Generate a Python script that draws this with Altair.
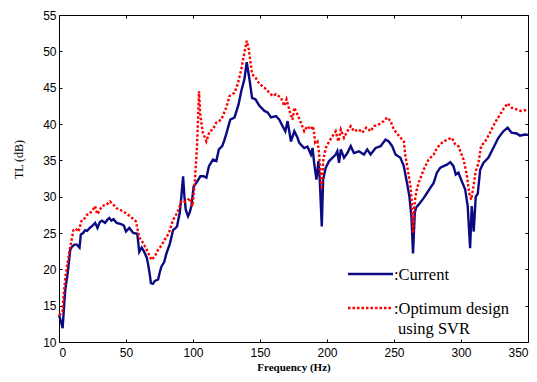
import altair as alt
import pandas as pd

# Current design
cur_f = [0, 1.2, 2.7, 4.0, 4.7, 6.5, 8.4, 9.6, 11.5, 13.4, 15.3, 16.3, 18, 19.5, 21, 23, 25, 27, 28.7, 30.5,
         32, 34.4, 36, 37.6, 39, 40.6, 43, 45, 46.8, 48.5, 50, 52.5, 55.4, 58.4, 59.9, 61.7, 63, 64.1, 65.5, 66.6,
         67.8, 68.6, 70, 71.5, 74, 75.2, 76.5, 78.5, 80.2, 82.7, 84, 85.1, 87.1, 88.1, 89, 90.1, 91.3, 92.6, 93.6, 94.6,
         96.3, 97.5, 98.8, 100.5, 102.5, 105.5, 108, 110, 111.9, 114.9, 117.4, 119.3, 121.8, 123.3, 124.8, 127.8, 131, 134, 136, 138.4,
         140.1, 142.1, 144.1, 146.6, 149.6, 153.3, 155.7, 158.2, 162, 164.4, 166.9, 168.9, 170.6, 173.1, 175.6, 178, 179.3, 183, 185.4, 188,
         189.2, 190.4, 192.1, 193.6, 194.6, 196.1, 197.1, 199.1, 201.6, 204, 206.5, 207.7, 209, 210.3, 212.7, 215.2, 217.7, 220.1, 223.8, 227.6,
         230, 232.5, 236.3, 240, 243.7, 246.1, 248.6, 251.1, 254.8, 257.3, 259.7, 261.5, 263, 264.2, 265.5, 266.5, 268.4, 272.1, 274.6, 277.1,
         279.6, 282, 284.6, 287, 289.5, 292, 294.4, 296.1, 298.1, 300.6, 303.1, 305, 306.8, 308, 309.5, 311, 312.5, 314.3, 316.7, 320.4,
         324.1, 327.9, 331.6, 334.8, 337.7, 341.5, 344, 347.7, 350]
cur_tl = [13.7, 13.0, 11.9, 15.5, 17.2, 19.5, 22.7, 23.1, 23.4, 23.4, 23.0, 24.8, 25.0, 25.4, 25.3, 25.7, 26.0, 26.4, 25.7, 26.5,
          26.7, 26.4, 26.8, 27.05, 26.7, 26.9, 26.4, 26.3, 26.2, 26.0, 25.2, 25.7, 25.0, 24.9, 22.4, 23.0, 22.6, 22.2, 21.6, 20.6,
          19.2, 18.1, 18.0, 18.4, 18.6, 19.6, 20.4, 21.0, 22.2, 23.5, 24.5, 25.4, 25.7, 25.9, 26.8, 27.75, 30.0, 32.8, 30.0, 28.2,
          27.3, 27.8, 28.7, 31.4, 31.9, 32.8, 32.8, 32.6, 34.2, 35.1, 34.9, 36.5, 36.95, 37.7, 38.6, 40.6, 40.9, 42.7, 44.5, 46.2,
          48.5, 46.2, 43.6, 43.4, 42.5, 41.8, 41.6, 40.9, 41.1, 40.6, 39.7, 39.0, 40.4, 37.6, 39.0, 38.1, 37.4, 36.7, 36.9, 35.8,
          36.7, 34.65, 32.35, 34.9, 32.35, 25.9, 32.35, 34.0, 34.9, 35.35, 35.8, 36.25, 34.65, 36.5, 35.35, 36.0, 36.95, 36.0, 36.25, 35.8,
          36.5, 35.8, 36.7, 36.95, 37.85, 37.6, 36.95, 35.8, 35.35, 34.2, 31.9, 30.0, 27.3, 22.2, 27.75, 28.5, 28.9, 29.8, 30.5, 31.2,
          31.9, 33.3, 34.0, 34.2, 34.4, 34.75, 34.2, 33.05, 33.3, 32.1, 31.0, 28.7, 22.9, 28.7, 25.2, 30.0, 30.4, 33.7, 34.65, 35.35,
          36.7, 38.1, 39.0, 39.5, 38.8, 38.7, 38.4, 38.55, 38.5]

# Optimum design using SVR
opt_f = [0, 1.5, 2.5, 3.5, 4.7, 6.5, 8.4, 10.8, 12.5, 14.6, 17, 19, 20.8, 22.5, 24.5, 27, 28.5, 29.4, 32, 33.5,
         35.6, 38, 40.6, 43, 45.5, 49.3, 53, 55, 57.4, 59.9, 62.9, 65.4, 67.5, 69, 70.5, 71.5, 74, 76.5, 79, 82,
         85.1, 88.1, 91.4, 93, 95.1, 97.5, 99.6, 101.3, 103, 104.5, 105.5, 107.4, 110, 112.4, 114.9, 117.4, 121.1, 124.8, 127.3, 131,
         133.4, 136, 138.4, 140.1, 141.6, 144.1, 146.6, 149.6, 153.3, 157, 159.4, 162, 165.7, 168.1, 169.8, 172.4, 174.3, 175.6, 178, 180.5,
         183, 185.4, 188, 189.7, 191.2, 192.9, 194.1, 195.8, 197.3, 199.1, 201.6, 204, 206.5, 208.5, 210.3, 212.7, 215.2, 217.7, 220.1, 223.8,
         226.3, 229.3, 232.5, 235, 238.7, 242.4, 244.9, 247.4, 249.9, 253.6, 257.3, 258.5, 260.5, 262.3, 263.2, 264.2, 265.5, 266.8, 268.4, 272.1,
         275.8, 279.6, 282, 285.7, 289.5, 293.2, 295.7, 298.1, 301.9, 304.3, 306.1, 307.6, 309.3, 311, 313, 315, 318, 321.7, 325.4, 329.1,
         332.3, 334.8, 337.7, 341.5, 344.7, 347.7, 350]
opt_tl = [13.7, 13.9, 14.2, 16.5, 18.8, 21.0, 23.1, 25.4, 25.6, 25.2, 26.8, 27.0, 27.5, 27.6, 28.0, 28.7, 27.6, 27.8, 28.7, 28.8,
          28.9, 29.35, 28.9, 28.4, 28.2, 27.8, 27.3, 27.0, 26.6, 24.4, 23.6, 22.7, 21.9, 21.3, 21.6, 21.8, 22.7, 23.3, 24.1, 25.0,
          26.8, 27.75, 29.35, 29.2, 29.35, 29.8, 28.7, 31.9, 36.95, 44.5, 41.1, 38.8, 37.6, 39.0, 39.25, 40.2, 40.6, 42.25, 43.85, 44.3,
          45.5, 47.5, 49.85, 51.45, 50.3, 46.85, 46.4, 45.5, 45.0, 44.3, 43.85, 44.1, 43.6, 42.5, 43.4, 41.6, 40.6, 42.25, 41.3, 40.2,
          39.0, 39.7, 39.25, 39.7, 37.4, 37.6, 36.0, 31.0, 35.1, 36.7, 37.6, 38.3, 39.0, 37.6, 39.25, 38.1, 39.0, 39.7, 39.0, 39.25,
          38.8, 39.5, 39.0, 39.7, 39.95, 40.4, 40.9, 40.4, 39.25, 38.4, 37.6, 35.6, 33.5, 31.4, 29.5, 25.0, 29.4, 30.8, 31.9, 33.7,
          35.1, 35.8, 36.7, 37.4, 37.85, 38.1, 37.2, 36.95, 35.1, 33.05, 30.5, 29.6, 31.4, 33.5, 34.65, 36.95, 37.6, 38.8, 40.2, 41.3,
          42.25, 42.85, 42.25, 42.0, 41.8, 41.9, 41.8]

x_ticks = [0, 50, 100, 150, 200, 250, 300, 350]
y_ticks = [10, 15, 20, 25, 30, 35, 40, 45, 50, 55]

cur = pd.DataFrame({"f": cur_f, "tl": cur_tl})
opt = pd.DataFrame({"f": opt_f, "tl": opt_tl})
one = pd.DataFrame({"k": [0]})

xs = alt.Scale(domain=[0, 350], nice=False, zero=False)
ys = alt.Scale(domain=[10, 55], nice=False, zero=False)

common_axis = dict(domain=False, grid=False, tickSize=3, tickColor="black", tickWidth=1,
                   labelFont="Liberation Sans", labelFontSize=12, labelColor="black",
                   titleFont="Liberation Serif", titleColor="black")

x_bottom = alt.X("f:Q", scale=xs, axis=alt.Axis(values=x_ticks, title="Frequency (Hz)", offset=-3,
                                                  labelPadding=5, titleFontSize=11, titlePadding=3,
                                                  titleFontWeight="bold", **common_axis))
y_left = alt.Y("tl:Q", scale=ys, axis=alt.Axis(values=y_ticks, title="TL (dB)", offset=-3,
                                                labelPadding=3, titleFontSize=12, titleX=-37, titleY=144,
                                                titleFontWeight="normal", **common_axis))

line_cur = alt.Chart(cur).mark_line(color="#0a0a82", strokeWidth=2.4).encode(x=x_bottom, y=y_left)
line_opt = alt.Chart(opt).mark_line(color="#ff0000", strokeWidth=2.4, strokeDash=[2.5, 2], strokeCap="butt").encode(
    x=alt.X("f:Q", scale=xs, axis=None), y=alt.Y("tl:Q", scale=ys, axis=None))

# invisible layer carrying the mirrored top/right ticks
mirror = alt.Chart(cur).mark_line(opacity=0).encode(
    x=alt.X("f:Q", scale=xs, axis=alt.Axis(orient="top", values=x_ticks, labels=False, title=None, offset=-3,
                                          domain=False, grid=False, tickSize=3, tickColor="black")),
    y=alt.Y("tl:Q", scale=ys, axis=alt.Axis(orient="right", values=y_ticks, labels=False, title=None, offset=-3,
                                           domain=False, grid=False, tickSize=3, tickColor="black")),
)

# legend drawn inside the plot
leg_font = dict(font="Liberation Serif", fontSize=16.5, color="black", align="left", baseline="middle")
leg_cur_line = alt.Chart(one).mark_rule(color="#0a0a82", strokeWidth=2.6).encode(
    x=alt.value(289), x2=alt.value(334), y=alt.value(259))
leg_opt_line = alt.Chart(one).mark_rule(color="#ff0000", strokeWidth=2.6, strokeDash=[2.5, 2], strokeCap="butt").encode(
    x=alt.value(289), x2=alt.value(334), y=alt.value(293))
leg_t1 = alt.Chart(one).mark_text(**leg_font).encode(x=alt.value(335), y=alt.value(260), text=alt.value(":Current"))
leg_t2 = alt.Chart(one).mark_text(**leg_font).encode(x=alt.value(335), y=alt.value(294), text=alt.value(":Optimum design"))
leg_t3 = alt.Chart(one).mark_text(**leg_font).encode(x=alt.value(339), y=alt.value(314), text=alt.value("using SVR"))

chart = alt.layer(line_cur, line_opt, mirror, leg_cur_line, leg_opt_line, leg_t1, leg_t2, leg_t3).resolve_axis(
    x="independent", y="independent"
).properties(
    width=469, height=327,
    autosize=alt.AutoSizeParams(type="none"),
    padding={"left": 51, "top": 7, "right": 1, "bottom": 32},
    background="white",
).configure_view(stroke="black", strokeWidth=1)

chart.save("out.html", embed_options={"renderer": "svg", "actions": False})
